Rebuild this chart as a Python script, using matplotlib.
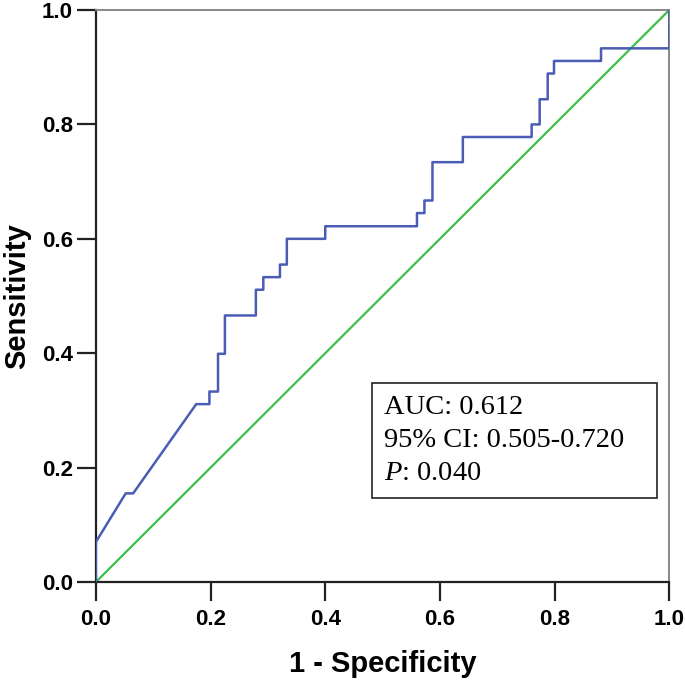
import matplotlib.pyplot as plt
from matplotlib.patches import Rectangle

# ROC curve points (1 - specificity, sensitivity)
fpr = [0.0, 0.0, 0.052, 0.065, 0.175, 0.198, 0.198, 0.213, 0.213, 0.225, 0.225,
       0.279, 0.279, 0.292, 0.292, 0.321, 0.321, 0.333, 0.333, 0.400, 0.400,
       0.560, 0.560, 0.573, 0.573, 0.587, 0.587, 0.640, 0.640, 0.760, 0.760,
       0.774, 0.774, 0.788, 0.788, 0.799, 0.799, 0.881, 0.881, 1.0, 1.0]
tpr = [0.0, 0.070, 0.155, 0.155, 0.311, 0.311, 0.333, 0.333, 0.399, 0.399, 0.466,
       0.466, 0.511, 0.511, 0.533, 0.533, 0.555, 0.555, 0.600, 0.600, 0.622,
       0.622, 0.645, 0.645, 0.667, 0.667, 0.734, 0.734, 0.778, 0.778, 0.800,
       0.800, 0.844, 0.844, 0.889, 0.889, 0.911, 0.911, 0.933, 0.933, 1.0]
ref_x = [0.0, 1.0]
ref_y = [0.0, 1.0]
ticks = [0.0, 0.2, 0.4, 0.6, 0.8, 1.0]
stats_text = "AUC: 0.612\n95% CI: 0.505-0.720\n$\\it{P}$: 0.040"

plt.rcParams['font.family'] = ['Liberation Sans', 'DejaVu Sans']
plt.rcParams['mathtext.fontset'] = 'custom'
plt.rcParams['mathtext.it'] = 'Liberation Serif:italic'

fig = plt.figure(figsize=(6.85, 6.82), dpi=100)
ax = fig.add_axes([0.140, 0.1466, 0.837, 0.8387])

ax.plot(ref_x, ref_y, color='#3dbf4a', lw=1.6, zorder=2)
ax.plot(fpr, tpr, color='#4a5cb4', lw=1.8, zorder=3)

ax.set_xlim(0, 1)
ax.set_ylim(0, 1)
ax.set_xticks(ticks)
ax.set_yticks(ticks)
ax.set_xticklabels(['%.1f' % t for t in ticks], fontsize=16, fontweight='bold')
ax.set_yticklabels(['%.1f' % t for t in ticks], fontsize=16, fontweight='bold')
ax.tick_params(direction='out', length=13.5, width=1.6, color='#222222')
ax.tick_params(axis='x', pad=6)
ax.tick_params(axis='y', pad=3)

for side in ['left', 'bottom']:
    ax.spines[side].set_linewidth(1.6)
    ax.spines[side].set_color('#222222')
for side in ['top', 'right']:
    ax.spines[side].set_linewidth(1.4)
    ax.spines[side].set_color('#888888')

ax.set_xlabel('1 - Specificity', fontsize=21, fontweight='bold', labelpad=14)
ax.set_ylabel('Sensitivity', fontsize=21, fontweight='bold', labelpad=8)

# stats box
ax.add_patch(Rectangle((0.482, 0.147), 0.497, 0.201, transform=ax.transAxes,
                       fc='white', ec='#222222', lw=1.2, zorder=4))
ax.text(0.503, 0.247, stats_text, transform=ax.transAxes, fontsize=20.5,
        family='Liberation Serif', va='center', ha='left', linespacing=1.42,
        zorder=5)

fig.savefig('out.png', dpi=100)
